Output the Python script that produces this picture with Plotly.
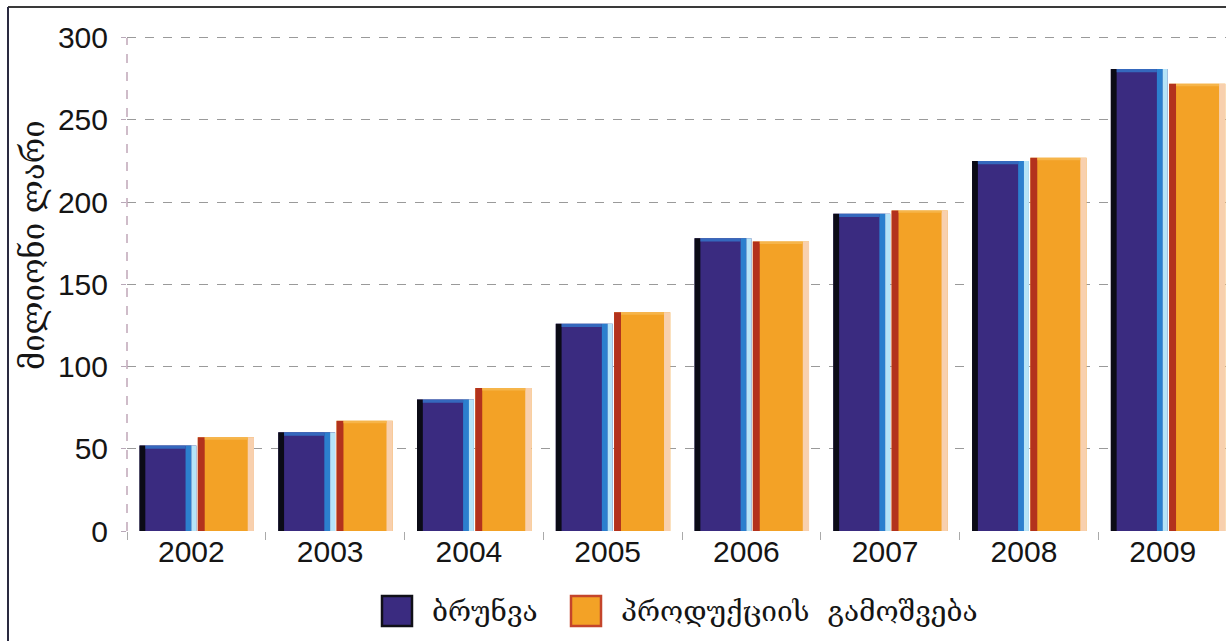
import plotly.graph_objects as go

# Annual figures, million GEL
years = ["2002", "2003", "2004", "2005", "2006", "2007", "2008", "2009"]
turnover = [52, 60, 80, 126, 178, 193, 225, 281]
output = [57, 67, 87, 133, 176, 195, 227, 272]
series_names = ["ბრუნვა", "პროდუქციის  გამოშვება"]
y_ticks = [0, 50, 100, 150, 200, 250, 300]
y_title = "მილიონი ლარი"

W, H = 1226, 641
ML, MR, MT, MB = 127, 0, 18, 110
PW, PH = W - ML - MR, H - MT - MB

def px_x(px):
    return (px - ML) / PW

def px_y(py):
    return (H - MB - py) / PH

fig = go.Figure()

def bar(vals, offset, width, color, base=None, name=None):
    fig.add_trace(go.Bar(
        x=years, y=vals, base=base, offset=offset, width=width,
        marker=dict(color=color, line=dict(width=0)),
        name=name, showlegend=False,
        hoverinfo="skip" if name is None else None,
    ))

# turnover bars with a shaded left edge, bright right edge and top rim
bar(turnover, -0.41, 0.41, "#3a2b80", name=series_names[0])
bar(turnover, -0.41, 0.042, "#0b0b16")
bar(turnover, -0.078, 0.043, "#2c7fce")
bar(turnover, -0.036, 0.036, "#b6e4f8")
bar([2] * len(turnover), -0.368, 0.29, "#3568bd", base=[v - 2 for v in turnover])

# production output bars with a dark red left edge and pale right edge
bar(output, 0.01, 0.405, "#f3a226", name=series_names[1])
bar(output, 0.01, 0.05, "#b3321d")
bar(output, 0.37, 0.045, "#f8d0ae")
bar([1.5] * len(output), 0.06, 0.31, "#f6b54a", base=[v - 1.5 for v in output])

tick_font = dict(family="Liberation Sans, Arial, sans-serif", size=30, color="#151515")
geo_font = "DejaVu Serif, DejaVu Sans, serif"

fig.update_layout(
    width=W, height=H,
    margin=dict(l=ML, r=MR, t=MT, b=MB),
    paper_bgcolor="white", plot_bgcolor="white",
    barmode="overlay",
    showlegend=False,
    xaxis=dict(
        type="category", range=[-0.5, 7.42],
        showgrid=False, zeroline=False, showline=False,
        ticks="outside", tickson="boundaries", ticklen=8, tickcolor="#aaaaaa",
        tickfont=tick_font, ticklabelshift=-5,
    ),
    yaxis=dict(
        range=[0, 312], tickvals=y_ticks,
        showgrid=True, gridcolor="#9a9a9a", gridwidth=1.3, griddash="dash",
        zeroline=False, showline=False,
        ticks="outside", ticklen=5, tickcolor="#b8a8b8",
        tickfont=tick_font, ticklabelstandoff=7,
    ),
)

# dashed value axis
fig.add_shape(type="line", xref="paper", yref="paper",
              x0=0, x1=0, y0=0, y1=px_y(38),
              line=dict(color="#c0a6b8", width=1.5, dash="dash"))

# outer frame (top and left edges)
fig.add_shape(type="line", xref="paper", yref="paper",
              x0=px_x(8), x1=1.0, y0=px_y(7), y1=px_y(7),
              line=dict(color="#3a3a3a", width=2))
fig.add_shape(type="line", xref="paper", yref="paper",
              x0=px_x(8), x1=px_x(8), y0=px_y(7), y1=px_y(H),
              line=dict(color="#2a2a40", width=2))

# axis title
fig.add_annotation(text=y_title, xref="paper", yref="paper",
                   x=px_x(33), y=px_y(245), xanchor="center", yanchor="middle",
                   textangle=-90, showarrow=False,
                   font=dict(family=geo_font, size=31, color="#151515"))

# legend swatches and labels
swatches = [(382, "#3a2b80", "#101018"), (571, "#f3a226", "#c4452b")]
for (sx, fill, edge), label in zip(swatches, series_names):
    fig.add_shape(type="rect", xref="paper", yref="paper",
                  x0=px_x(sx), x1=px_x(sx + 30), y0=px_y(596), y1=px_y(626),
                  fillcolor=fill, line=dict(color=edge, width=2.5))
    fig.add_annotation(text=label, xref="paper", yref="paper",
                       x=px_x(sx + 48), y=px_y(611), xanchor="left", yanchor="middle",
                       showarrow=False,
                       font=dict(family=geo_font, size=28, color="#151515"))

fig.write_html("out.html")
